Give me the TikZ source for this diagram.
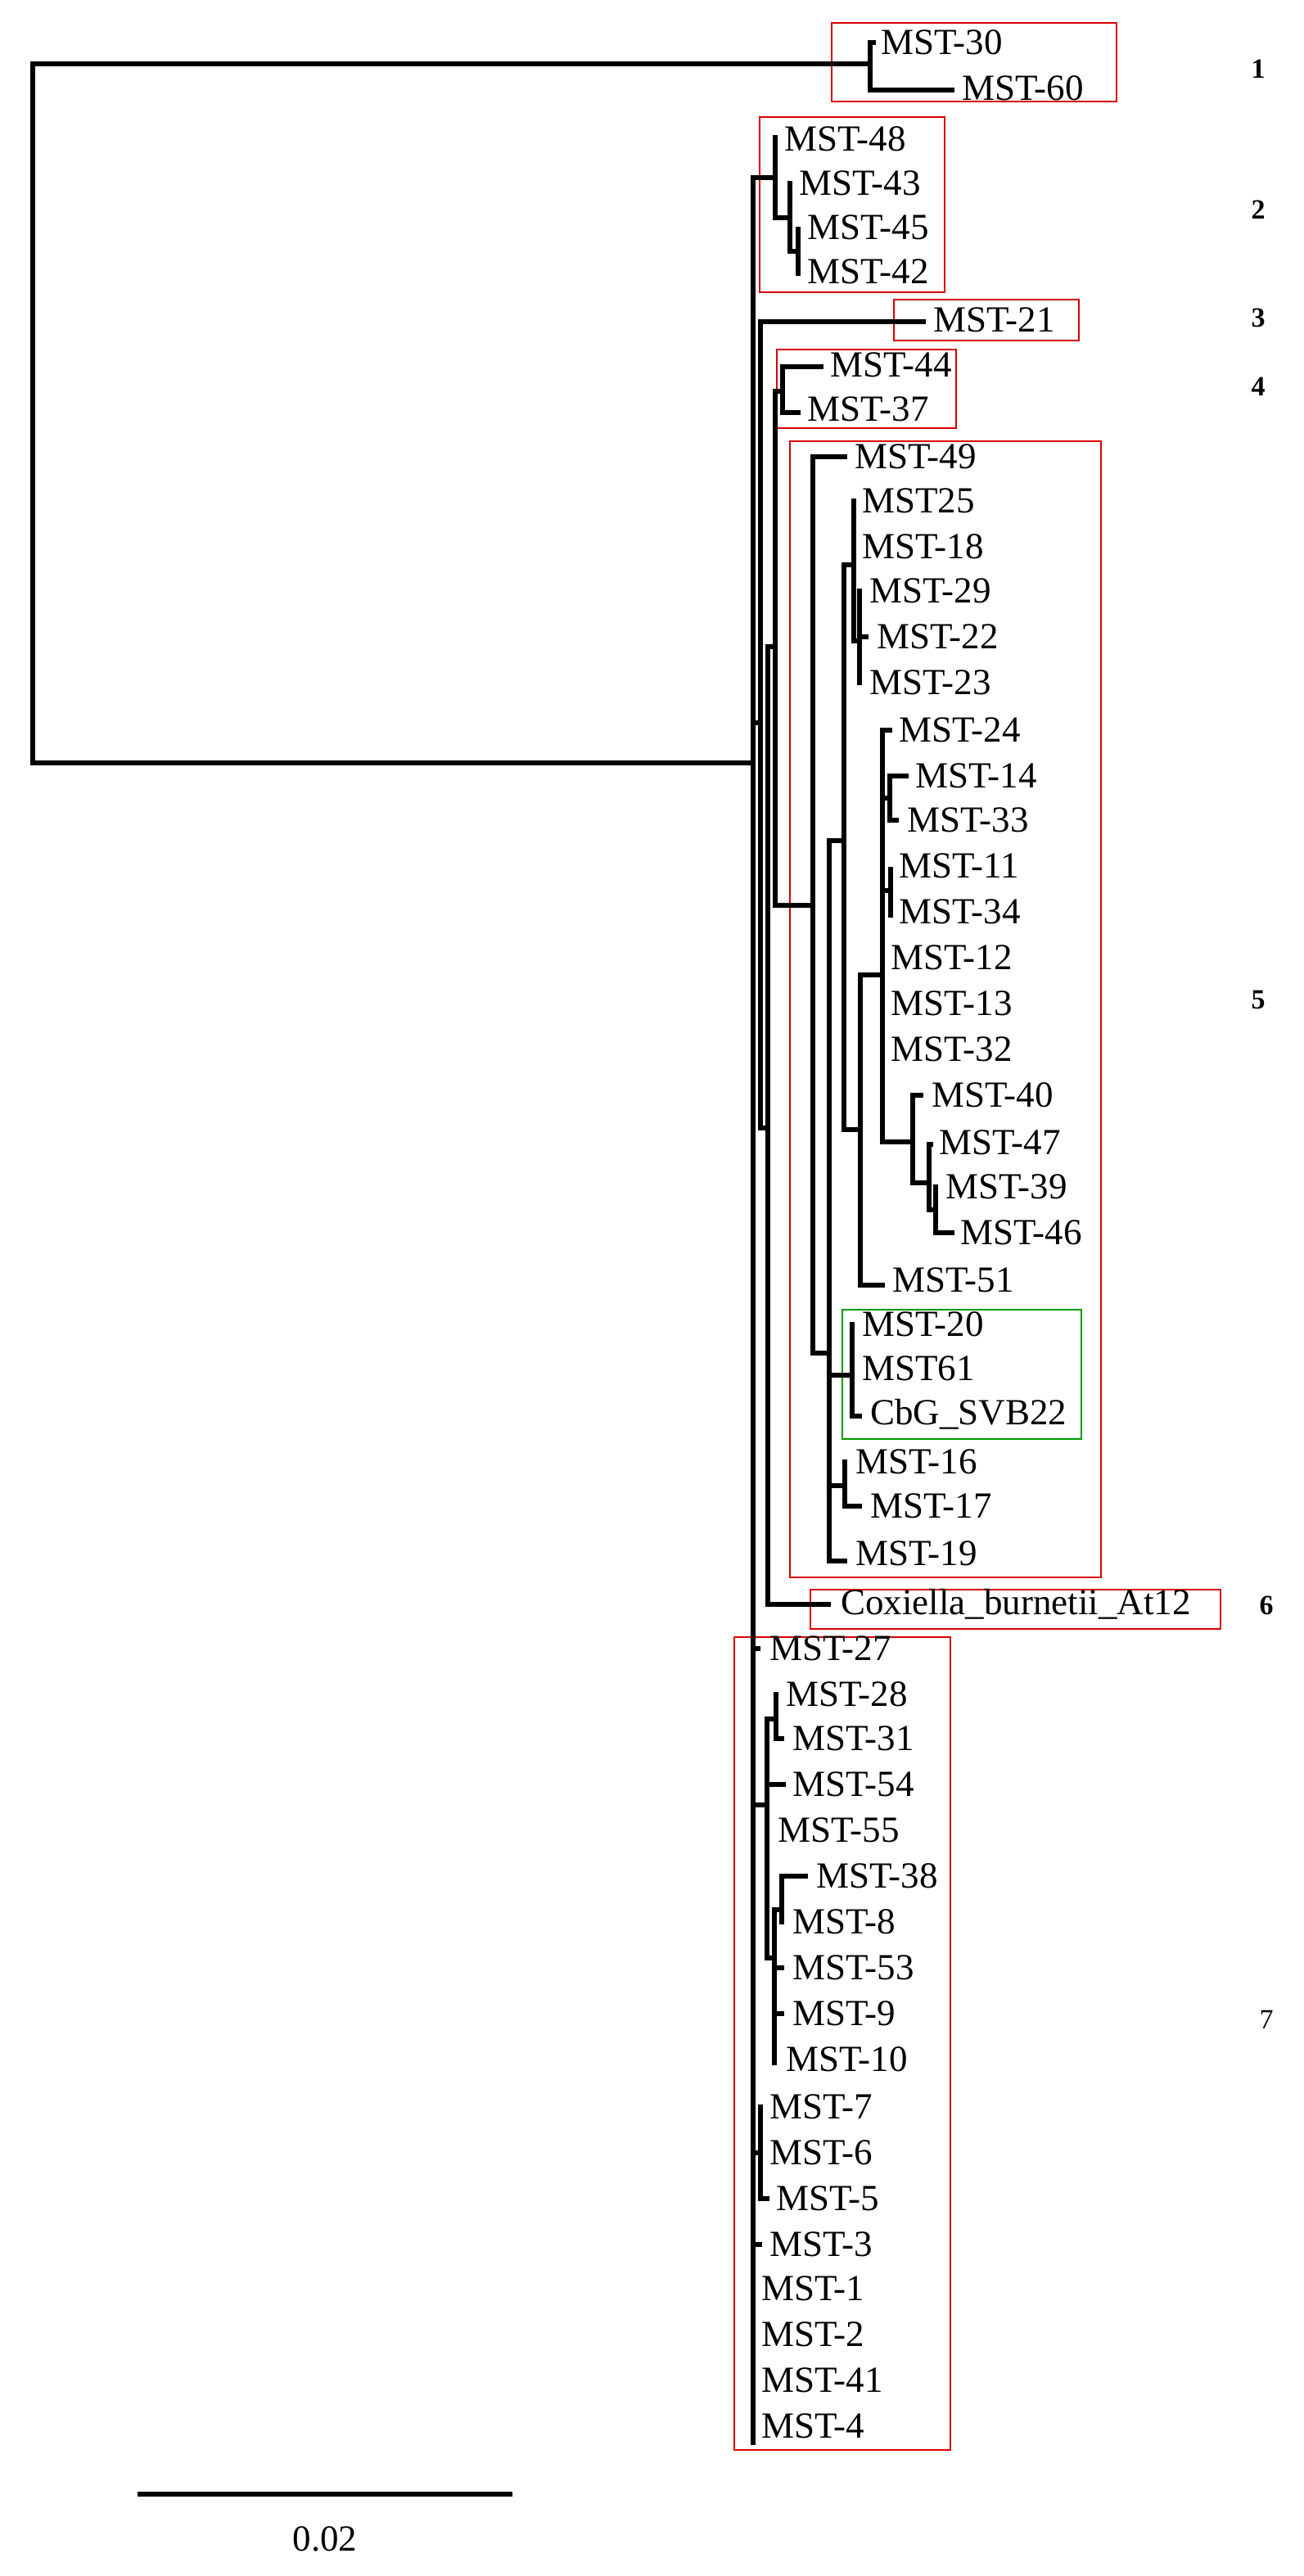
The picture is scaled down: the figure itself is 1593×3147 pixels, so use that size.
\documentclass[tikz,border=0pt]{standalone}
\usepackage{fontspec}
\setmainfont{Liberation Serif}
\begin{document}
\begin{tikzpicture}[x=0.5pt,y=-0.5pt,
  br/.style={line width=3pt,line cap=rect,line join=miter},
  lbl/.style={anchor=west,inner sep=0pt,font=\fontsize{22.5}{24}\selectfont},
  rbox/.style={draw=red!85!black,line width=1pt},
  gbox/.style={draw=green!60!black,line width=1pt},
  num/.style={inner sep=0pt,font=\fontsize{17}{18}\selectfont\bfseries}]
\useasboundingbox (0,0) rectangle (1593,3147);
% boxes
\draw[rbox] (1016,28) rectangle (1364,124);
\draw[rbox] (928,143) rectangle (1154,357);
\draw[rbox] (1092,366) rectangle (1318,416);
\draw[rbox] (949,427) rectangle (1168,523);
\draw[rbox] (965,539) rectangle (1345,1927);
\draw[gbox] (1029,1600) rectangle (1321,1758);
\draw[rbox] (990,1942) rectangle (1491,1990);
\draw[rbox] (897,2000) rectangle (1161,2993);
% tree
\draw[br] (1063,78)--(40,78)--(40,932)--(920,932);
\draw[br] (1067,52)--(1063,52)--(1063,110)--(1163,110);
\draw[br] (920,217)--(920,2984);
\draw[br] (920,217)--(947,217);
\draw[br] (947,168)--(947,266)--(965,266);
\draw[br] (965,224)--(965,307)--(975,307);
\draw[br] (975,280)--(975,334);
\draw[br] (920,883)--(929,883);
\draw[br] (1128,393)--(929,393)--(929,1378)--(938,1378);
\draw[br] (947,790)--(938,790)--(938,1960)--(1012,1960);
\draw[br] (947,478)--(947,1106)--(993,1106);
\draw[br] (947,478)--(956,478);
\draw[br] (1003,448)--(956,448)--(956,504)--(975,504);
\draw[br] (1032,558)--(993,558)--(993,1653)--(1013,1653);
\draw[br] (1031,1027)--(1013,1027)--(1013,1907)--(1032,1907);
\draw[br] (1031,690)--(1031,1380)--(1051,1380);
\draw[br] (1031,690)--(1043,690);
\draw[br] (1043,612)--(1043,783)--(1050,783);
\draw[br] (1050,722)--(1050,834);
\draw[br] (1050,778)--(1058,778);
\draw[br] (1078,1191)--(1051,1191)--(1051,1570)--(1078,1570);
\draw[br] (1087,892)--(1078,892)--(1078,1395)--(1115,1395);
\draw[br] (1078,975)--(1087,975);
\draw[br] (1107,948)--(1087,948)--(1087,1002)--(1095,1002);
\draw[br] (1078,1088)--(1088,1088);
\draw[br] (1088,1062)--(1088,1118);
\draw[br] (1125,1338)--(1115,1338)--(1115,1445)--(1135,1445);
\draw[br] (1137,1398)--(1135,1398)--(1135,1478)--(1143,1478);
\draw[br] (1143,1450)--(1143,1506)--(1163,1506);
\draw[br] (1013,1680)--(1041,1680);
\draw[br] (1041,1618)--(1041,1730)--(1050,1730);
\draw[br] (1013,1815)--(1032,1815);
\draw[br] (1032,1786)--(1032,1840)--(1050,1840);
\draw[br] (920,2014)--(926,2014);
\draw[br] (920,2205)--(937,2205);
\draw[br] (937,2100)--(937,2392)--(946,2392);
\draw[br] (937,2100)--(948,2100);
\draw[br] (948,2070)--(948,2124)--(955,2124);
\draw[br] (937,2180)--(957,2180);
\draw[br] (946,2333)--(946,2520);
\draw[br] (946,2333)--(955,2333);
\draw[br] (984,2292)--(955,2292)--(955,2348);
\draw[br] (946,2404)--(955,2404);
\draw[br] (946,2460)--(955,2460);
\draw[br] (920,2630)--(929,2630);
\draw[br] (929,2574)--(929,2686)--(937,2686);
\draw[br] (920,2742)--(928,2742);
% labels
\node[lbl] (l30) at (1076,52) {MST-30};
\node[lbl] (l60) at (1175,108) {MST-60};
\node[lbl] (l48) at (958,170) {MST-48};
\node[lbl] (l43) at (976,224) {MST-43};
\node[lbl] (l45) at (986,278) {MST-45};
\node[lbl] (l42) at (986,332) {MST-42};
\node[lbl] (l21) at (1140,391) {MST-21};
\node[lbl] (l44) at (1014,446) {MST-44};
\node[lbl] (l37) at (986,500) {MST-37};
\node[lbl] (l49) at (1044,558) {MST-49};
\node[lbl] (l25) at (1053,612) {MST25};
\node[lbl] (l18) at (1053,668) {MST-18};
\node[lbl] (l29) at (1062,722) {MST-29};
\node[lbl] (l22) at (1071,778) {MST-22};
\node[lbl] (l23) at (1062,834) {MST-23};
\node[lbl] (l24) at (1098,892) {MST-24};
\node[lbl] (l14) at (1118,948) {MST-14};
\node[lbl] (l33) at (1108,1002) {MST-33};
\node[lbl] (l11) at (1098,1058) {MST-11};
\node[lbl] (l34) at (1098,1114) {MST-34};
\node[lbl] (l12) at (1088,1170) {MST-12};
\node[lbl] (l13) at (1088,1226) {MST-13};
\node[lbl] (l32) at (1088,1282) {MST-32};
\node[lbl] (l40) at (1138,1338) {MST-40};
\node[lbl] (l47) at (1147,1396) {MST-47};
\node[lbl] (l39) at (1155,1450) {MST-39};
\node[lbl] (l46) at (1173,1506) {MST-46};
\node[lbl] (l51) at (1090,1564) {MST-51};
\node[lbl] (l20) at (1053,1618) {MST-20};
\node[lbl] (l61) at (1053,1672) {MST61};
\node[lbl] (lcb) at (1063,1728) {CbG\_SVB22};
\node[lbl] (l16) at (1045,1786) {MST-16};
\node[lbl] (l17) at (1063,1840) {MST-17};
\node[lbl] (l19) at (1045,1898) {MST-19};
\node[lbl] (lcox) at (1027,1960) {Coxiella\_burnetii\_At12};
\node[lbl] (l27) at (940,2014) {MST-27};
\node[lbl] (l28) at (960,2070) {MST-28};
\node[lbl] (l31) at (968,2124) {MST-31};
\node[lbl] (l54) at (968,2180) {MST-54};
\node[lbl] (l55) at (950,2236) {MST-55};
\node[lbl] (l38) at (997,2292) {MST-38};
\node[lbl] (l8) at (968,2348) {MST-8};
\node[lbl] (l53) at (968,2404) {MST-53};
\node[lbl] (l9) at (968,2460) {MST-9};
\node[lbl] (l10) at (960,2516) {MST-10};
\node[lbl] (l7) at (940,2574) {MST-7};
\node[lbl] (l6) at (940,2630) {MST-6};
\node[lbl] (l5) at (948,2686) {MST-5};
\node[lbl] (l3) at (940,2742) {MST-3};
\node[lbl] (l1) at (930,2796) {MST-1};
\node[lbl] (l2) at (930,2852) {MST-2};
\node[lbl] (l41) at (930,2908) {MST-41};
\node[lbl] (l4) at (930,2964) {MST-4};
% cluster numbers
\node[num] (n1) at (1537,84) {1};
\node[num] (n2) at (1537,256) {2};
\node[num] (n3) at (1537,388) {3};
\node[num] (n4) at (1537,472) {4};
\node[num] (n5) at (1537,1222) {5};
\node[num] (n6) at (1547,1961) {6};
\node[num,font=\fontsize{17}{18}\selectfont] (n7) at (1547,2467) {7};
% scale bar
\draw[line width=3pt] (168,3047)--(626,3047);
\node[lbl,anchor=center] (sc) at (397,3102) {0.02};
\end{tikzpicture}
\end{document}
